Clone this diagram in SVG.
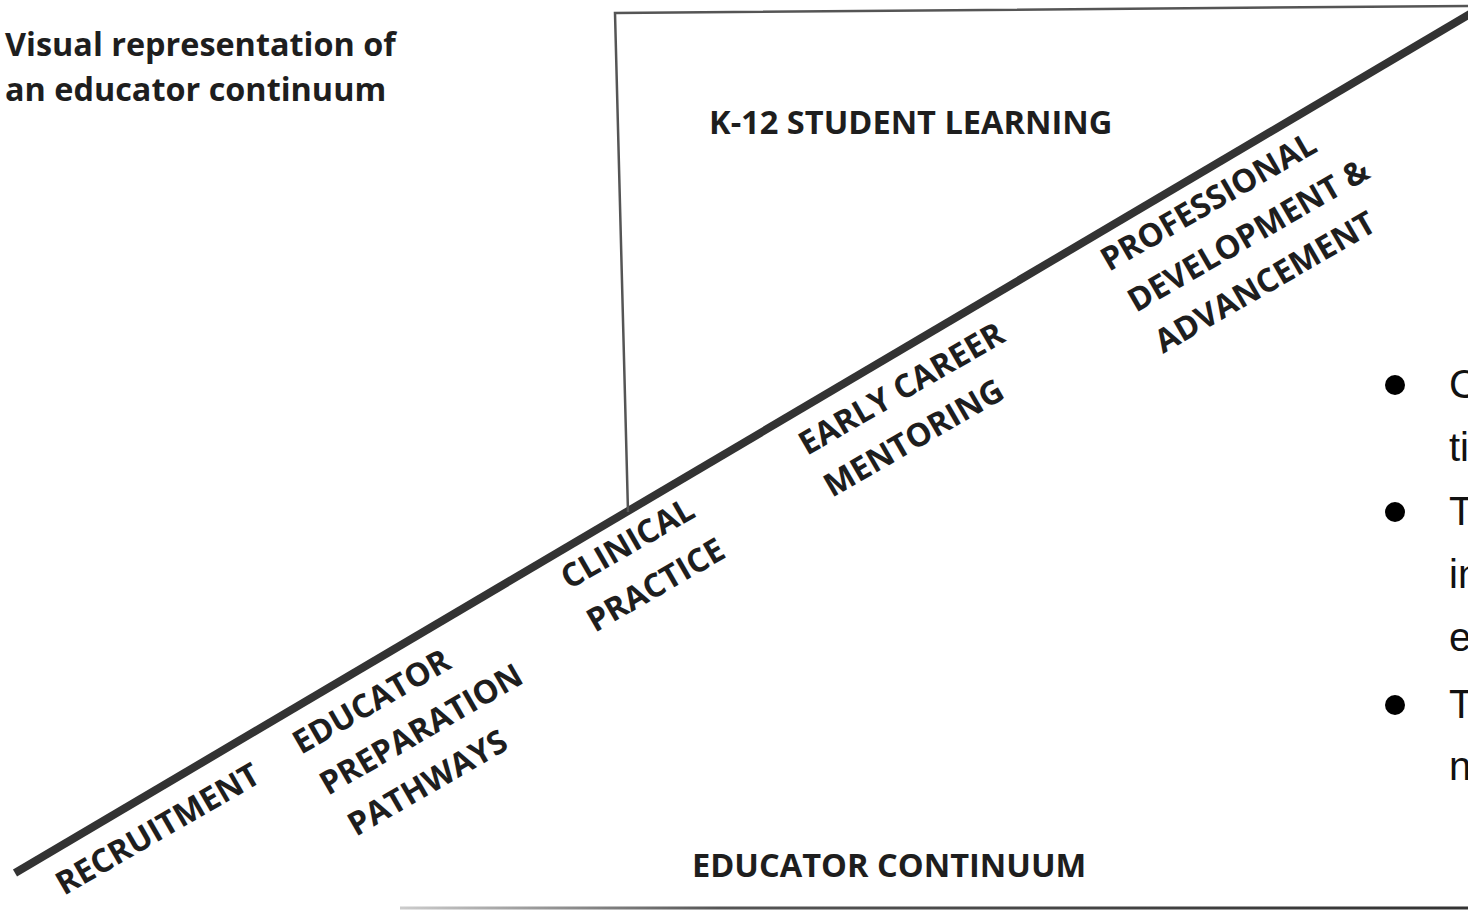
<svg xmlns="http://www.w3.org/2000/svg" width="1468" height="910" viewBox="0 0 1468 910">
<style>
.t{font-family:"Open Sans","Liberation Sans",sans-serif;font-weight:700;fill:#1e1e1e}
.h{font-size:32.4px}
.lbl{font-size:32.6px}
.rot{font-size:32.4px}
.b{font-family:"Liberation Sans",Arial,sans-serif;font-size:40px;fill:#111}
</style>
<defs>
<linearGradient id="g1" x1="400" y1="0" x2="1468" y2="0" gradientUnits="userSpaceOnUse">
<stop offset="0" stop-color="#ccc"/>
<stop offset="0.3" stop-color="#555"/>
<stop offset="1" stop-color="#333"/>
</linearGradient>
</defs>
<rect width="1468" height="910" fill="#fff"/>
<g id="title">
<text class="t h" x="5" y="56">Visual representation of</text>
<text class="t h" x="5" y="101">an educator continuum</text>
</g>
<g id="connectors" fill="none">
<line x1="15" y1="873" x2="1475" y2="11" stroke="#333" stroke-width="8"/>
<polyline points="628,512 615,13 1468,6" stroke="#555" stroke-width="2.5"/>
<line x1="400" y1="908" x2="1468" y2="908" stroke="url(#g1)" stroke-width="3"/>
</g>
<g id="k12"><text class="t lbl" x="709" y="134">K-12 STUDENT LEARNING</text></g>
<g id="continuum"><text class="t lbl" x="692" y="877">EDUCATOR CONTINUUM</text></g>
<g id="recruitment"><text class="t rot" transform="translate(64,896) rotate(-30)">RECRUITMENT</text></g>
<g id="prep">
<text class="t rot" transform="translate(301,755) rotate(-30)">EDUCATOR</text>
<text class="t rot" transform="translate(328,796) rotate(-30)">PREPARATION</text>
<text class="t rot" transform="translate(356,837) rotate(-30)">PATHWAYS</text>
</g>
<g id="clinical">
<text class="t rot" transform="translate(569,590) rotate(-30)">CLINICAL</text>
<text class="t rot" transform="translate(595,633) rotate(-30)">PRACTICE</text>
</g>
<g id="mentoring">
<text class="t rot" transform="translate(807,456) rotate(-30)">EARLY CAREER</text>
<text class="t rot" transform="translate(832,498) rotate(-30)">MENTORING</text>
</g>
<g id="profdev">
<text class="t rot" transform="translate(1109,272) rotate(-30)">PROFESSIONAL</text>
<text class="t rot" transform="translate(1136,313) rotate(-30)">DEVELOPMENT &amp;</text>
<text class="t rot" transform="translate(1163,354) rotate(-30)">ADVANCEMENT</text>
</g>
<g id="bullets">
<circle cx="1395" cy="385" r="10" fill="#000"/>
<circle cx="1395" cy="512" r="10" fill="#000"/>
<circle cx="1395" cy="705" r="10" fill="#000"/>
<text class="b" x="1449" y="398">C</text>
<text class="b" x="1449" y="461">ti</text>
<text class="b" x="1449" y="525">T</text>
<text class="b" x="1449" y="588">in</text>
<text class="b" x="1449" y="651">e</text>
<text class="b" x="1449" y="718">T</text>
<text class="b" x="1449" y="780">n</text>
</g>
</svg>
